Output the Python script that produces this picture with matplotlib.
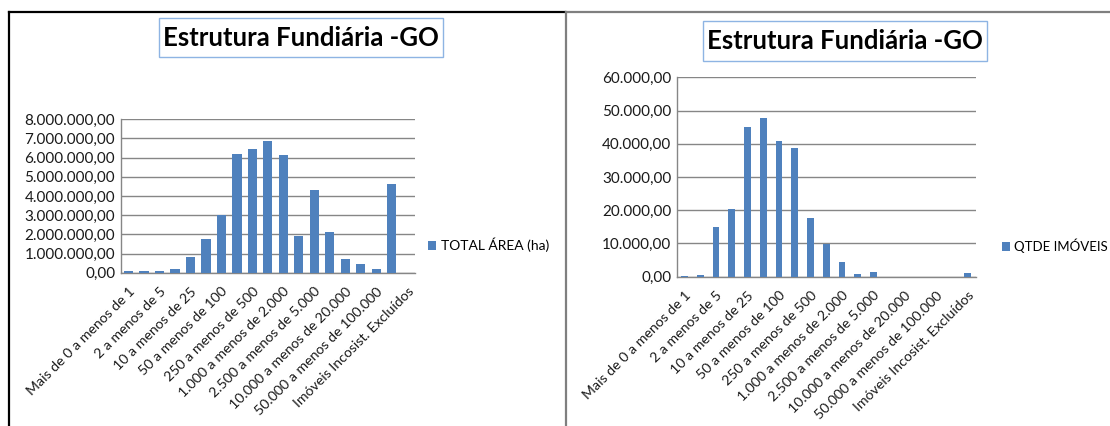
import matplotlib
matplotlib.use('Agg')
import matplotlib.pyplot as plt
from matplotlib.patches import Rectangle
from matplotlib.lines import Line2D
from matplotlib.ticker import FuncFormatter, MultipleLocator

plt.rcParams['font.family'] = ['Lato', 'DejaVu Sans']

categorias = ['Mais de 0 a menos de 1', '1 a menos de 2', '2 a menos de 5',
              '5 a menos de 10', '10 a menos de 25', '25 a menos de 50',
              '50 a menos de 100', '100 a menos de 250', '250 a menos de 500',
              '500 a menos de 1.000', '1.000 a menos de 2.000',
              '2.000 a menos de 2.500', '2.500 a menos de 5.000',
              '5.000 a menos de 10.000', '10.000 a menos de 20.000',
              '20.000 a menos de 50.000', '50.000 a menos de 100.000',
              '100.000 e mais', 'Imóveis Incosist. Excluídos']

total_area = [70000, 70000, 70000, 170000, 800000, 1770000, 2990000,
              6190000, 6430000, 6890000, 6160000, 1900000, 4330000,
              2100000, 710000, 450000, 170000, 4640000, 0]

qtde_imoveis = [300, 500, 15040, 20260, 45140, 47850, 40820, 38620,
                17750, 9930, 4410, 800, 1300, 0, 0, 0, 0, 0, 1100]

titulo = 'Estrutura Fundiária -GO'
AZUL = '#4F81BD'
CINZA = '#868686'


def fmt_br(v, pos=None):
    s = '{:,.2f}'.format(v)
    return s.replace(',', 'X').replace('.', ',').replace('X', '.')


def draw(ax, valores, largura, ymax, passo, rotulo):
    x = list(range(len(categorias)))
    ax.bar(x, valores, width=largura, color=AZUL, label=rotulo, zorder=3)
    ax.set_xlim(-0.5, len(categorias) - 0.5)
    ax.set_ylim(0, ymax)
    ax.yaxis.set_major_locator(MultipleLocator(passo))
    ax.yaxis.set_major_formatter(FuncFormatter(fmt_br))
    ax.grid(axis='y', color=CINZA, linewidth=1, zorder=0)
    for lado in ['top', 'right']:
        ax.spines[lado].set_visible(False)
    for lado in ['left', 'bottom']:
        ax.spines[lado].set_color(CINZA)
        ax.spines[lado].set_linewidth(1)
    ax.set_xticks(x[::2])
    ax.set_xticklabels(categorias[::2], rotation=45, ha='right',
                       rotation_mode='anchor', fontsize=10.2, color='#1a1a1a')
    ax.tick_params(axis='x', length=0, pad=9)
    ax.tick_params(axis='y', length=0, pad=4, labelsize=11, labelcolor='#1a1a1a')


if __name__ == '__main__':
    fig = plt.figure(figsize=[11.1, 4.26], dpi=100)
    W, H = 1110.0, 426.0

    # molduras dos dois graficos
    fig.add_artist(Line2D([9 / W, 565 / W], [1 - 12 / H, 1 - 12 / H], color='black', lw=1.6))
    fig.add_artist(Line2D([9 / W, 9 / W], [0, 1 - 12 / H], color='black', lw=1.6))
    fig.add_artist(Line2D([566 / W, 1], [1 - 12 / H, 1 - 12 / H], color='#7f7f7f', lw=1.6))
    fig.add_artist(Line2D([566 / W, 566 / W], [0, 1 - 12 / H], color='#7f7f7f', lw=1.6))

    # caixas de titulo
    for x0, x1, y0, y1 in [(159, 443, 18, 57), (703, 987, 21, 61)]:
        fig.add_artist(Rectangle((x0 / W, 1 - y1 / H), (x1 - x0) / W, (y1 - y0) / H,
                                 facecolor='white', edgecolor='#8EB4E3', lw=1))
        fig.text((x0 + x1) / 2 / W, 1 - (y0 + y1) / 2 / H, titulo, ha='center',
                 va='center', fontsize=18.5, fontweight='bold')

    ax1 = fig.add_axes([120.7 / W, 1 - 272.7 / H, 294.3 / W, 153.4 / H])
    draw(ax1, total_area, 0.6, 8000000, 1000000, 'TOTAL ÁREA (ha)')
    ax1.legend(loc='center left', bbox_to_anchor=(428 / W, 1 - 245 / H),
               bbox_transform=fig.transFigure, frameon=False, fontsize=10,
               handlelength=0.6, handleheight=0.6, handletextpad=0.35,
               borderpad=0, borderaxespad=0)

    ax2 = fig.add_axes([676.7 / W, 1 - 276.7 / H, 299 / W, 199.4 / H])
    draw(ax2, qtde_imoveis, 0.43, 60000, 10000, 'QTDE IMÓVEIS')
    ax2.legend(loc='center left', bbox_to_anchor=(1002 / W, 1 - 246 / H),
               bbox_transform=fig.transFigure, frameon=False, fontsize=9.5,
               handlelength=0.6, handleheight=0.6, handletextpad=0.3,
               borderpad=0, borderaxespad=0)

    plt.savefig('out.png', dpi=100)
